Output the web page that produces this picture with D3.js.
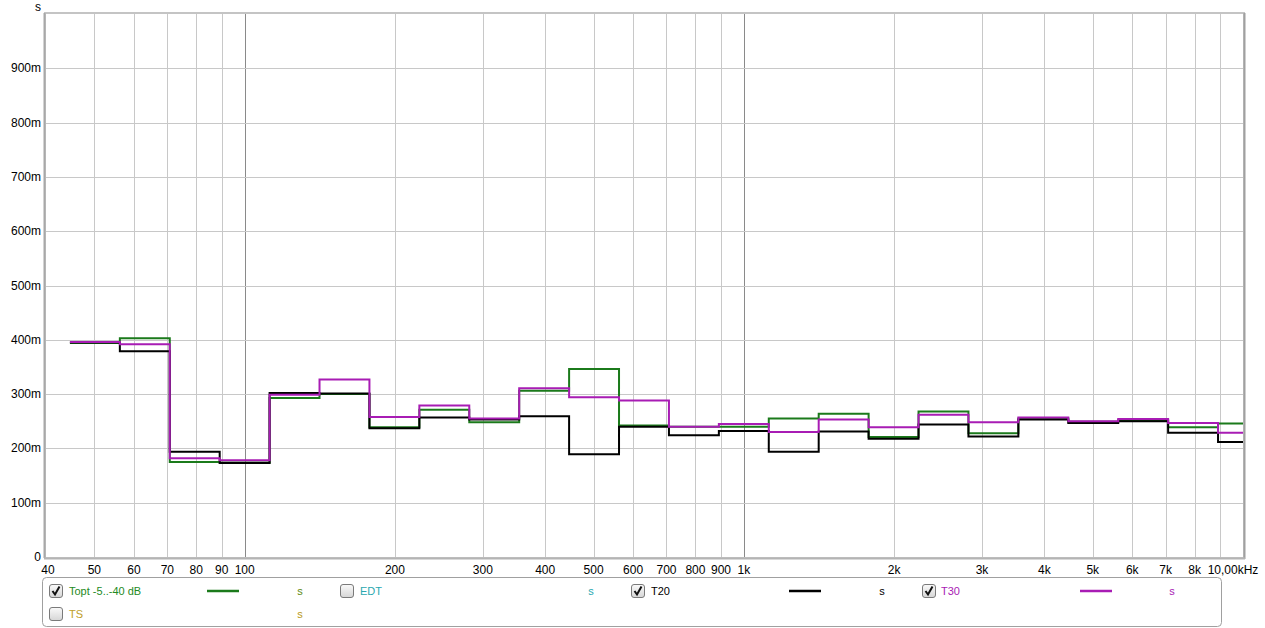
<!DOCTYPE html>
<html>
<head>
<meta charset="utf-8">
<script src="https://cdn.jsdelivr.net/npm/d3@7"></script>
<style>
  html, body { margin: 0; padding: 0; background: #ffffff; }
  svg { display: block; }
  text { font-family: "Liberation Sans", Arial, sans-serif; }
</style>
</head>
<body>
<svg id="chart" width="1265" height="628"></svg>
<script>
// ---- data ----
const bands = [50, 63, 80, 100, 125, 160, 200, 250, 315, 400, 500, 630, 800, 1000, 1250, 1600, 2000, 2500, 3150, 4000, 5000, 6300, 8000, 10000];
const topt = [0.394, 0.403, 0.175, 0.174, 0.293, 0.300, 0.239, 0.271, 0.248, 0.306, 0.346, 0.242, 0.240, 0.240, 0.255, 0.264, 0.221, 0.268, 0.228, 0.255, 0.249, 0.252, 0.239, 0.246];
const t20  = [0.395, 0.379, 0.194, 0.173, 0.302, 0.301, 0.237, 0.257, 0.253, 0.259, 0.189, 0.240, 0.224, 0.232, 0.194, 0.231, 0.218, 0.244, 0.222, 0.253, 0.247, 0.250, 0.229, 0.212];
const t30  = [0.396, 0.392, 0.182, 0.178, 0.299, 0.327, 0.258, 0.279, 0.255, 0.311, 0.294, 0.288, 0.240, 0.245, 0.230, 0.253, 0.239, 0.262, 0.248, 0.257, 0.250, 0.254, 0.247, 0.229];
const xTicks = [40, 50, 60, 70, 80, 90, 100, 200, 300, 400, 500, 600, 700, 800, 900, 1000, 2000, 3000, 4000, 5000, 6000, 7000, 8000, 9000, 10000];
const xTickLabels = ["40", "50", "60", "70", "80", "90", "100", "200", "300", "400", "500", "600", "700", "800", "900", "1k", "2k", "3k", "4k", "5k", "6k", "7k", "8k", "", "10,00kHz"];
const yTicks = [0, 0.1, 0.2, 0.3, 0.4, 0.5, 0.6, 0.7, 0.8, 0.9];
const yTickLabels = ["0", "100m", "200m", "300m", "400m", "500m", "600m", "700m", "800m", "900m"];
const seriesNames = ["Topt -5..-40 dB", "T20", "T30"];

// ---- layout ----
const L = 46, R = 1243, T = 14, B = 557;
const svg = d3.select("#chart");
const x = d3.scaleLog().domain([40, 10000]).range([L, R]);
const y = d3.scaleLinear().domain([0, 1]).range([B, T]);

// grid
const grid = svg.append("g");
grid.selectAll("line.v").data(xTicks.filter(d => d > 40 && d < 10000)).join("line")
  .attr("x1", d => Math.round(x(d)) + 0.5).attr("x2", d => Math.round(x(d)) + 0.5)
  .attr("y1", T).attr("y2", B)
  .attr("stroke", d => (d === 100 || d === 1000) ? "#8a8a8a" : "#c8c8c8").attr("stroke-width", 1);
grid.selectAll("line.h").data(yTicks.filter(d => d > 0)).join("line")
  .attr("x1", L).attr("x2", R)
  .attr("y1", d => Math.round(y(d)) + 0.5).attr("y2", d => Math.round(y(d)) + 0.5)
  .attr("stroke", "#c8c8c8").attr("stroke-width", 1);

// series
svg.append("clipPath").attr("id", "clip").append("rect")
  .attr("x", L).attr("y", T).attr("width", R - L).attr("height", B - T);
function edge(f, s) { return Math.pow(10, Math.round(10 * Math.log10(f)) / 10 + s * 0.05); }
function stepPts(vals) {
  const pts = [];
  bands.forEach((f, i) => {
    pts.push([edge(f, -1), vals[i]]);
    pts.push([edge(f, 1), vals[i]]);
  });
  return pts;
}
const line = d3.line().x(d => x(d[0])).y(d => y(d[1]));
const plot = svg.append("g").attr("clip-path", "url(#clip)");
[[topt, "#1b7a1b"], [t20, "#000000"], [t30, "#a81cb4"]].forEach(([vals, col]) => {
  plot.append("path").attr("d", line(stepPts(vals)))
    .attr("fill", "none").attr("stroke", col).attr("stroke-width", 2)
    .attr("stroke-linejoin", "miter");
});

// frame
svg.append("rect").attr("x", L - 1).attr("y", T - 1).attr("width", R - L + 2).attr("height", B - T + 2)
  .attr("fill", "none").attr("stroke", "#c4c4c4").attr("stroke-width", 2);
svg.append("line").attr("x1", L - 1.5).attr("x2", L - 1.5).attr("y1", T - 1).attr("y2", B + 1)
  .attr("stroke", "#a8a8a8").attr("stroke-width", 2);
svg.append("line").attr("x1", R + 1.5).attr("x2", R + 1.5).attr("y1", T - 1).attr("y2", B + 2)
  .attr("stroke", "#a0a0a0").attr("stroke-width", 2);
svg.append("line").attr("x1", L - 2).attr("x2", R + 2).attr("y1", B + 1.5).attr("y2", B + 1.5)
  .attr("stroke", "#b4b4b4").attr("stroke-width", 2);

// y labels
svg.selectAll("text.yl").data(yTicks).join("text")
  .attr("x", 41).attr("y", d => y(d) + 4)
  .attr("text-anchor", "end").attr("font-size", 12).attr("fill", "#000")
  .text((d, i) => yTickLabels[i]);
svg.append("text").attr("x", 41).attr("y", 10.5).attr("text-anchor", "end")
  .attr("font-size", 12).attr("fill", "#000").text("s");

// x labels
svg.selectAll("text.xl").data(xTicks).join("text")
  .attr("x", (d, i) => d === 10000 ? 1233 : (d === 40 ? 48 : x(d)))
  .attr("y", 574).attr("text-anchor", "middle").attr("font-size", 12).attr("fill", "#000")
  .text((d, i) => xTickLabels[i]);

// legend
const lg = svg.append("g");
lg.append("rect").attr("x", 42.5).attr("y", 577.5).attr("width", 1179).attr("height", 49)
  .attr("rx", 4).attr("fill", "#fff").attr("stroke", "#a0a0a0");
const defs = svg.append("defs");
const gr = defs.append("linearGradient").attr("id", "cb").attr("x1", 0).attr("y1", 0).attr("x2", 0).attr("y2", 1);
gr.append("stop").attr("offset", "0%").attr("stop-color", "#fafafa");
gr.append("stop").attr("offset", "100%").attr("stop-color", "#d6d6d6");
function checkbox(cx, cy, checked) {
  lg.append("rect").attr("x", cx + 0.5).attr("y", cy + 0.5).attr("width", 13).attr("height", 13)
    .attr("rx", 2.5).attr("fill", "url(#cb)").attr("stroke", "#7a7a7a");
  if (checked) {
    lg.append("path").attr("d", `M${cx + 3.5},${cy + 7} L${cx + 6},${cy + 10.5} L${cx + 10.5},${cy + 2.5}`)
      .attr("fill", "none").attr("stroke", "#111").attr("stroke-width", 2);
  }
}
const legendItems = [
  { cb: 49, tx: 69, row: 0, label: seriesNames[0], col: "#238a23", checked: true, line: [207, 239], lineCol: "#1b7a1b", sx: 300, sCol: "#5e8a10" },
  { cb: 340, tx: 360, row: 0, label: "EDT", col: "#2aa8b0", checked: false, line: null, sx: 591, sCol: "#2aa8b0" },
  { cb: 631, tx: 651, row: 0, label: seriesNames[1], col: "#000000", checked: true, line: [789, 821], lineCol: "#000", sx: 882, sCol: "#000" },
  { cb: 922, tx: 941, row: 0, label: seriesNames[2], col: "#a81cb4", checked: true, line: [1080, 1112], lineCol: "#a81cb4", sx: 1172, sCol: "#a81cb4" },
  { cb: 49, tx: 69, row: 1, label: "TS", col: "#c0a028", checked: false, line: null, sx: 300, sCol: "#b89a20" }
];
legendItems.forEach(it => {
  const cy = it.row === 0 ? 591 : 614;
  checkbox(it.cb, cy - 7, it.checked);
  lg.append("text").attr("x", it.tx).attr("y", cy + 4).attr("font-size", 11).attr("fill", it.col).text(it.label);
  if (it.line) {
    lg.append("line").attr("x1", it.line[0]).attr("x2", it.line[1]).attr("y1", cy).attr("y2", cy)
      .attr("stroke", it.lineCol).attr("stroke-width", 2.5);
  }
  lg.append("text").attr("x", it.sx).attr("y", cy + 4).attr("text-anchor", "middle")
    .attr("font-size", 11).attr("fill", it.sCol).text("s");
});
</script>
</body>
</html>
